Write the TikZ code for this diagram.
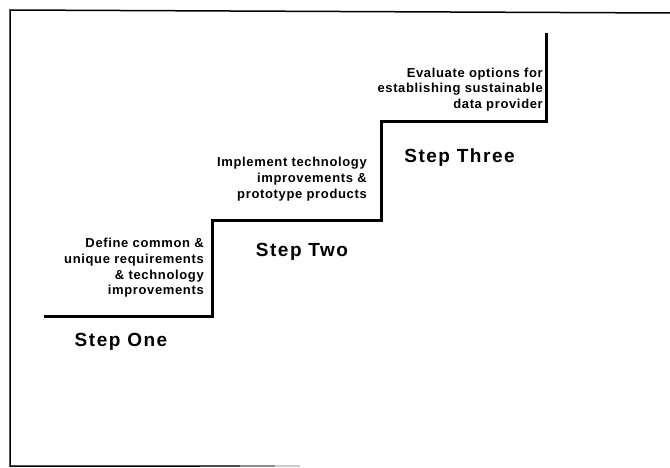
\documentclass[tikz,border=0pt]{standalone}
\usepackage{fontspec}
\newfontfamily\lblfont[LetterSpace=5]{Liberation Sans}
\newfontfamily\stepfont[LetterSpace=8]{Liberation Sans}
\begin{document}
\begin{tikzpicture}[x=1pt,y=-1pt,
  desc/.style={font=\lblfont\bfseries\fontsize{13}{15.7}\selectfont, align=right, anchor=east, inner sep=0pt},
  steplabel/.style={font=\stepfont\bfseries\fontsize{19}{22}\selectfont, inner sep=0pt, anchor=base},
  stair/.style={line width=3pt, line join=miter},
  frame/.style={line width=1.5pt}]
\useasboundingbox (0,0) rectangle (670,468);
\fill[white] (0,0) rectangle (670,468);
% frame
\draw[frame] (670,13) -- (10,10) -- (10,466) -- (200,466);
\draw[frame, black!70] (200,466) -- (240,466);
\draw[frame, black!45] (240,466) -- (275,466);
\draw[frame, black!20] (275,466) -- (300,466);
% staircase
\coordinate (s0) at (44,316);
\coordinate (s1) at (212.5,316);
\coordinate (s2) at (212.5,221);
\coordinate (s3) at (381.5,221);
\coordinate (s4) at (381.5,121.5);
\coordinate (s5) at (546.5,121.5);
\coordinate (s6) at (546.5,33);
\draw[stair] (s0) -- (s1) -- (s2) -- (s3) -- (s4) -- (s5) -- (s6);
% descriptions
\node[desc] (d1) at (204,268) {Define common \&\\unique requirements\\\& technology\\improvements};
\node[desc] (d2) at (367,179) {Implement technology\\improvements \&\\prototype products};
\node[desc] (d3) at (543,89.5) {Evaluate options for\\establishing sustainable\\data provider};
% step labels
\node[steplabel] (l1) at (121,346.5) {Step One};
\node[steplabel] (l2) at (302,256) {Step Two};
\node[steplabel] (l3) at (459.5,162.5) {Step Three};
\end{tikzpicture}
\end{document}
